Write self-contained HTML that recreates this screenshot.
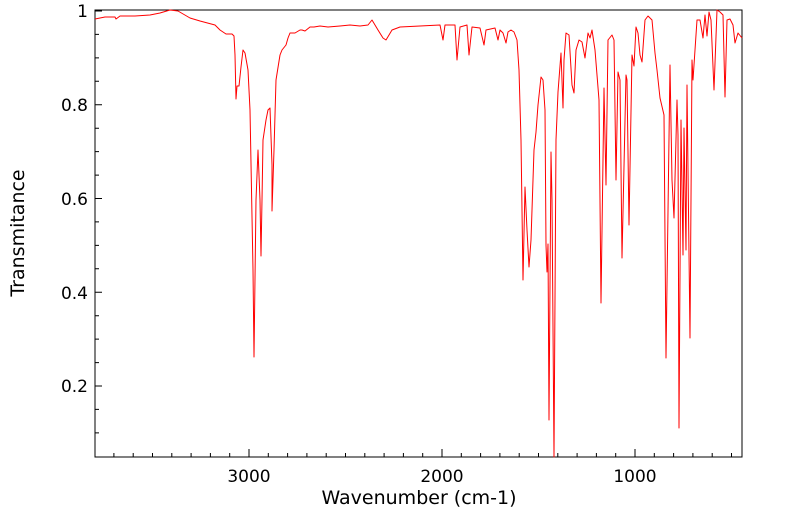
<!DOCTYPE html>
<html><head><style>body{margin:0;background:#fff}</style></head><body>
<svg width="799" height="516" viewBox="0 0 799 516" xmlns="http://www.w3.org/2000/svg" font-family="DejaVu Sans, Liberation Sans, sans-serif">
<rect x="95" y="10" width="647" height="447" fill="none" stroke="#000" stroke-width="1"/>
<path stroke="#000" stroke-width="1" fill="none" d="
M113.9,457v-4 M133.2,457v-4 M152.5,457v-4 M171.8,457v-4 M191.1,457v-4 M210.4,457v-4 M229.7,457v-4 M249,457v-8 M268.3,457v-4 M287.6,457v-4 M306.9,457v-4 M326.2,457v-4 M345.5,457v-4 M364.8,457v-4 M384.1,457v-4 M403.4,457v-4 M422.7,457v-4 M442,457v-8 M461.3,457v-4 M480.6,457v-4 M499.9,457v-4 M519.2,457v-4 M538.5,457v-4 M557.8,457v-4 M577.1,457v-4 M596.4,457v-4 M615.7,457v-4 M635,457v-8 M654.3,457v-4 M673.6,457v-4 M692.9,457v-4 M712.2,457v-4 M731.5,457v-4
M95,11h7 M95,34.4h4 M95,57.9h4 M95,81.3h4 M95,104.75h7 M95,128.2h4 M95,151.6h4 M95,175.1h4 M95,198.5h7 M95,221.9h4 M95,245.4h4 M95,268.8h4 M95,292.3h7 M95,315.7h4 M95,339.1h4 M95,362.6h4 M95,386h7 M95,409.4h4 M95,432.9h4"/>
<g font-size="17" fill="#000">
<text x="249" y="482" text-anchor="middle">3000</text>
<text x="442" y="482" text-anchor="middle">2000</text>
<text x="635" y="482" text-anchor="middle">1000</text>
<text x="88" y="392" text-anchor="end">0.2</text>
<text x="88" y="299" text-anchor="end">0.4</text>
<text x="88" y="205" text-anchor="end">0.6</text>
<text x="88" y="111" text-anchor="end">0.8</text>
<text x="88" y="17" text-anchor="end">1</text>
<text x="419" y="504" text-anchor="middle" font-size="19">Wavenumber (cm-1)</text>
<text transform="translate(24,233) rotate(-90)" text-anchor="middle" font-size="19">Transmitance</text>
</g>
<polyline fill="none" stroke="#ff0000" stroke-width="1" stroke-linejoin="round" points="95,19 105,17 115,17 116,19 120,16 135,16 150,15 160,13 170,10 178,11 190,18 200,21 215,25 220,30 226,34 232,34 234,36 235,55 236,99 237,86 239,86 241,67 243,50 245,53 248,70 250,110 253,270 254,357 256,200 258,150 260,200 261,256 262,200 263,140 266,120 268,110 270,108 272,165 272,211 274,150 276,80 280,55 282,50 286,45 288,38 290,33 295,33 300,30 302,30 305,31 310,27 314,27 320,26 328,27 340,26 350,25 360,26 368,25 372,20 378,30 383,38 386,40 392,30 400,27 420,26 440,25 443,40 445,25 455,25 457,60 460,27 467,25 469,55 472,27 480,28 484,45 486,30 495,28 498,40 500,30 503,33 506,43 508,32 511,30 514,32 517,40 519,70 521,140 523,280 525,187 527,230 529,267 531,240 534,150 536,132 538,105 541,77 543,80 545,110 546,245 547,272 548,244 549,420 551,152 552,200 554,457 556,140 558,92 561,53 563,108 564,60 566,33 569,35 572,85 574,93 576,50 579,40 582,42 585,58 588,33 590,38 592,30 595,50 599,100 601,303 604,88 606,185 608,40 612,35 614,40 616,180 618,72 620,80 622,258 626,75 627,80 629,225 632,55 634,66 636,27 638,33 640,55 642,62 645,20 648,16 652,20 655,53 657,70 660,98 664,115 666,358 670,65 672,180 674,218 677,100 678,135 679,428 681,120 683,255 684,128 686,250 687,85 690,338 692,60 693,80 697,20 700,20 703,38 705,15 707,36 709,12 711,20 714,90 717,10 720,12 723,15 725,97 727,20 730,19 733,25 735,43 738,33 742,38"/>
</svg>
</body></html>
